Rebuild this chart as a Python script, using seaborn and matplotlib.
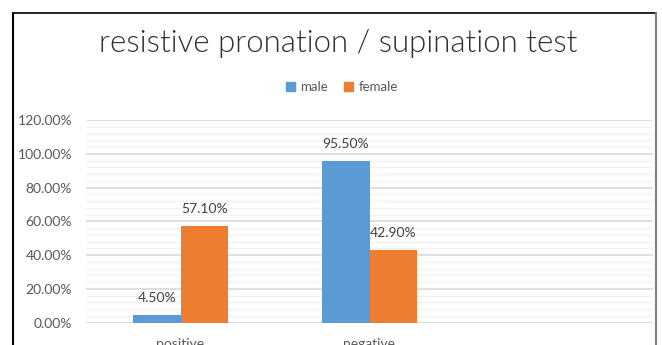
import matplotlib
matplotlib.use("Agg")
import matplotlib.pyplot as plt
import seaborn as sns
import pandas as pd
import numpy as np
from matplotlib.lines import Line2D
from matplotlib.ticker import MultipleLocator, FuncFormatter

# ---- data ----
categories = ["positive", "negative"]
male = [4.5, 95.5]
female = [57.1, 42.9]
series_names = ["male", "female"]
title = "resistive pronation / supination test"

df = pd.DataFrame({
    "category": categories * 2,
    "value": male + female,
    "sex": [series_names[0]] * len(categories) + [series_names[1]] * len(categories),
})

sns.set_theme(style="white")
plt.rcParams["font.family"] = ["Lato", "DejaVu Sans"]

W, H = 662, 345
fig = plt.figure(figsize=(W / 100, H / 100), dpi=100)
ax = fig.add_axes([86 / W, 1 - 322.7 / H, (653 - 86) / W, (322.7 - 120) / H])

palette = {"male": "#5B9BD5", "female": "#ED7D31"}
sns.barplot(data=df, x="category", y="value", hue="sex", order=categories,
            hue_order=series_names, palette=palette, width=0.5, ax=ax,
            saturation=1, legend=False, edgecolor="none")

ax.set_xlim(-0.5, 2.5)
ax.set_ylim(0, 120)
ax.yaxis.set_major_locator(MultipleLocator(20))
ax.yaxis.set_minor_locator(MultipleLocator(4))
ax.yaxis.set_major_formatter(FuncFormatter(lambda v, p: f"{v:.2f}%"))
ax.grid(False)
ax.set_axisbelow(True)
ax.grid(axis="y", which="minor", color="#F2F2F2", lw=1.0)
ax.grid(axis="y", which="major", color="#D9D9D9", lw=1.2)
for s in ax.spines.values():
    s.set_visible(False)
ax.tick_params(axis="y", which="both", length=0, pad=10, labelsize=10, labelcolor="#595959")
ax.tick_params(axis="x", length=0, pad=11, labelsize=10, labelcolor="#595959")
ax.set_xlabel("")
ax.set_ylabel("")

for cont in ax.containers:
    ax.bar_label(cont, labels=[f"{v:.2f}%" for v in cont.datavalues],
                 padding=8, fontsize=10, color="#404040")

# title
fig.text(338 / W, 1 - 43 / H, title, ha="center", va="center",
         fontsize=22.5, color="#303030", fontweight=300)

# legend
handles = [plt.Rectangle((0, 0), 1, 1, color=palette[n]) for n in series_names]
fig.legend(handles, series_names, loc="center", bbox_to_anchor=(342 / W, 1 - 87 / H),
           ncol=2, frameon=False, fontsize=9.5, labelcolor="#595959",
           handlelength=0.7, handleheight=0.7, handletextpad=0.4, columnspacing=1.2)

# outer chart frame (cropped at the bottom)
fig.add_artist(Line2D([13 / W, 656 / W], [1 - 13 / H, 1 - 13 / H], transform=fig.transFigure, color="black", lw=1.2))
fig.add_artist(Line2D([13 / W, 13 / W], [1 - 13 / H, 0], transform=fig.transFigure, color="black", lw=1.5))
fig.add_artist(Line2D([656 / W, 656 / W], [1 - 13 / H, 0], transform=fig.transFigure, color="#808080", lw=1.5))

fig.savefig("out.png", dpi=100)
